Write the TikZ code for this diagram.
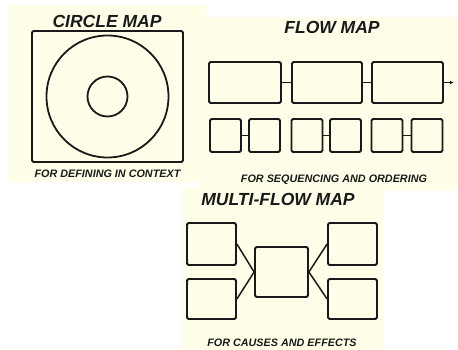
\documentclass[tikz,border=0pt]{standalone}
\usepackage{fontspec}
\usepackage{xcolor}
\usepackage{tikz}
\usetikzlibrary{calc,arrows.meta}
\newfontfamily\letterfont{Liberation Sans}
\definecolor{paper}{RGB}{255,255,233}
\definecolor{ink}{RGB}{25,25,25}
\newcommand{\mapfont}{\letterfont\bfseries\itshape}

\begin{document}
\begin{tikzpicture}[x=1pt,y=-1pt,
        box/.style={draw=ink, line width=1.8pt, rounded corners=1.5pt, inner sep=0pt},
        ring/.style={circle, draw=ink, line width=1.8pt, inner sep=0pt},
        link/.style={draw=ink, line width=1.5pt},
        heading/.style={font=\mapfont\fontsize{17.5}{17.5}\selectfont, text=ink, inner sep=0pt},
        caption/.style={font=\mapfont\fontsize{10.8}{10.8}\selectfont, text=ink, inner sep=0pt}]
        \useasboundingbox (0,0) rectangle (458,350);

        % panels
        \fill[paper] (8,5) rectangle (206,182);
        \fill[paper] (200,17) rectangle (458,190);
        \fill[paper] (183,188) rectangle (384,350);

        % circle map
        \node[box, minimum width=151pt, minimum height=131pt] (frame) at (107.5,96.5) {};
        \node[ring, minimum size=122pt] (outer) at (frame.center) {};
        \node[ring, minimum size=40pt] (inner) at (frame.center) {};
        \node[heading] (circletitle) at (107,21) {CIRCLE MAP};
        \node[caption] (circlenote) at (107.5,174) {FOR DEFINING IN CONTEXT};

        % flow map, large steps
        \node[box, minimum width=72pt, minimum height=41pt] (f1) at (245,82.5) {};
        \node[box, minimum width=70pt, minimum height=41pt] (f2) at (327,82.5) {};
        \node[box, minimum width=71pt, minimum height=41pt] (f3) at (407.5,82.5) {};
        \coordinate (flowend) at (454,82.5);
        \draw[link] (f1.east) -- (f2.west);
        \draw[link] (f2.east) -- (f3.west);
        \draw[link, -{Latex[length=4pt,width=3.5pt]}] (f3.east) -- (flowend);

        % flow map, substeps
        \node[box, minimum width=31pt, minimum height=33pt] (s1) at (225.5,135.5) {};
        \node[box, minimum width=31pt, minimum height=33pt] (s2) at (264.5,135.5) {};
        \node[box, minimum width=31pt, minimum height=33pt] (s3) at (307,135.5) {};
        \node[box, minimum width=31pt, minimum height=33pt] (s4) at (345.5,135.5) {};
        \node[box, minimum width=31pt, minimum height=33pt] (s5) at (387,135.5) {};
        \node[box, minimum width=31pt, minimum height=33pt] (s6) at (427,135.5) {};
        \draw[link] (s1.east) -- (s2.west);
        \draw[link] (s3.east) -- (s4.west);
        \draw[link] (s5.east) -- (s6.west);

        \node[heading] (flowtitle) at (332,27) {FLOW MAP};
        \node[caption] (flownote) at (334,180) {FOR SEQUENCING AND ORDERING};

        % multi-flow map
        \node[box, minimum width=49pt, minimum height=42pt] (cause1) at (211.5,244) {};
        \node[box, minimum width=49pt, minimum height=40pt] (cause2) at (211.5,299) {};
        \node[box, minimum width=53pt, minimum height=50pt] (event) at (281.5,272) {};
        \node[box, minimum width=49pt, minimum height=42pt] (effect1) at (352.5,244) {};
        \node[box, minimum width=49pt, minimum height=40pt] (effect2) at (352.5,299) {};
        \draw[link] (cause1.east) -- (event.west);
        \draw[link] (cause2.east) -- (event.west);
        \draw[link] (event.east) -- (effect1.west);
        \draw[link] (event.east) -- (effect2.west);

        \node[heading] (multititle) at (278,199) {MULTI-FLOW MAP};
        \node[caption] (multinote) at (282,343) {FOR CAUSES AND EFFECTS};
\end{tikzpicture}
\end{document}
